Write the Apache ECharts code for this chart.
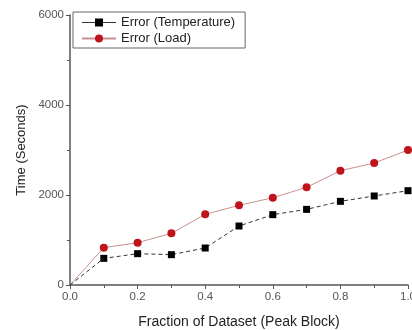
<!DOCTYPE html>
<html>
<head>
<meta charset="utf-8">
<script src="https://cdn.jsdelivr.net/npm/echarts@6/dist/echarts.min.js"></script>
<style>
  html,body{margin:0;padding:0;background:#fff;}
  #chart{width:412px;height:330px;}
</style>
</head>
<body>
<div id="chart"></div>
<script>
// fraction of dataset
const fractions = [0, 0.1, 0.2, 0.3, 0.4, 0.5, 0.6, 0.7, 0.8, 0.9, 1.0];
// time in seconds
const tempError = [0, 592, 696, 674, 822, 1311, 1563, 1681, 1859, 1978, 2096];
const loadError = [0, 829, 940, 1148, 1570, 1770, 1940, 2170, 2540, 2710, 3000];

// origin point is drawn without a marker in the original
const pairs = (ys) => fractions.map((x, i) =>
  i === 0 ? {value: [x, ys[i]], symbol: 'none'} : [x, ys[i]]);

const font = 'Liberation Sans, Arial, sans-serif';
const axisCol = '#555';

let chart = echarts.init(document.getElementById('chart'), null, {renderer: 'canvas'});
chart.setOption({
  animation: false,
  textStyle: {fontFamily: font},
  grid: {left: 70, right: 4, top: 15, bottom: 45, containLabel: false, outerBoundsMode: 'none'},
  legend: {
    orient: 'vertical',
    left: 73, top: 12,
    padding: [4, 10, 3, 8],
    itemGap: 3,
    itemWidth: 34, itemHeight: 10,
    borderColor: '#666', borderWidth: 1,
    textStyle: {fontSize: 13, color: '#222', fontFamily: font},
    data: [
      {name: 'Error (Temperature)', itemStyle: {color: '#000'}, lineStyle: {type: 'solid', color: '#333', width: 1}},
      {name: 'Error (Load)'}
    ]
  },
  xAxis: {
    type: 'value', min: 0, max: 1, interval: 0.2,
    name: 'Fraction of Dataset (Peak Block)',
    nameLocation: 'middle', nameGap: 30,
    nameTextStyle: {fontSize: 14, color: '#222'},
    axisLine: {lineStyle: {color: axisCol, width: 1.5}},
    axisTick: {inside: false, length: 4, lineStyle: {color: axisCol}},
    minorTick: {show: true, splitNumber: 2, length: 3, lineStyle: {color: axisCol}},
    splitLine: {show: false},
    axisLabel: {fontSize: 11.5, color: '#555', margin: 6, formatter: v => v.toFixed(1)}
  },
  yAxis: {
    type: 'value', min: 0, max: 6000, interval: 2000,
    name: 'Time (Seconds)',
    nameLocation: 'middle', nameGap: 42,
    nameTextStyle: {fontSize: 13, color: '#222'},
    axisLine: {show: true, lineStyle: {color: axisCol, width: 1.5}},
    axisTick: {show: true, inside: false, length: 4, lineStyle: {color: axisCol}},
    minorTick: {show: true, splitNumber: 2, length: 3, lineStyle: {color: axisCol}},
    splitLine: {show: false},
    axisLabel: {fontSize: 11.5, color: '#555', margin: 6, formatter: v => String(v)}
  },
  series: [
    {
      name: 'Error (Temperature)', type: 'line',
      data: pairs(tempError),
      symbol: 'rect', symbolSize: 7,
      itemStyle: {color: '#000'},
      lineStyle: {color: '#333', width: 1, type: [4, 3]},
      z: 3
    },
    {
      name: 'Error (Load)', type: 'line',
      data: pairs(loadError),
      symbol: 'circle', symbolSize: 8,
      itemStyle: {color: '#c0141c'},
      lineStyle: {color: '#c89090', width: 1},
      z: 2
    }
  ]
});
</script>
</body>
</html>
